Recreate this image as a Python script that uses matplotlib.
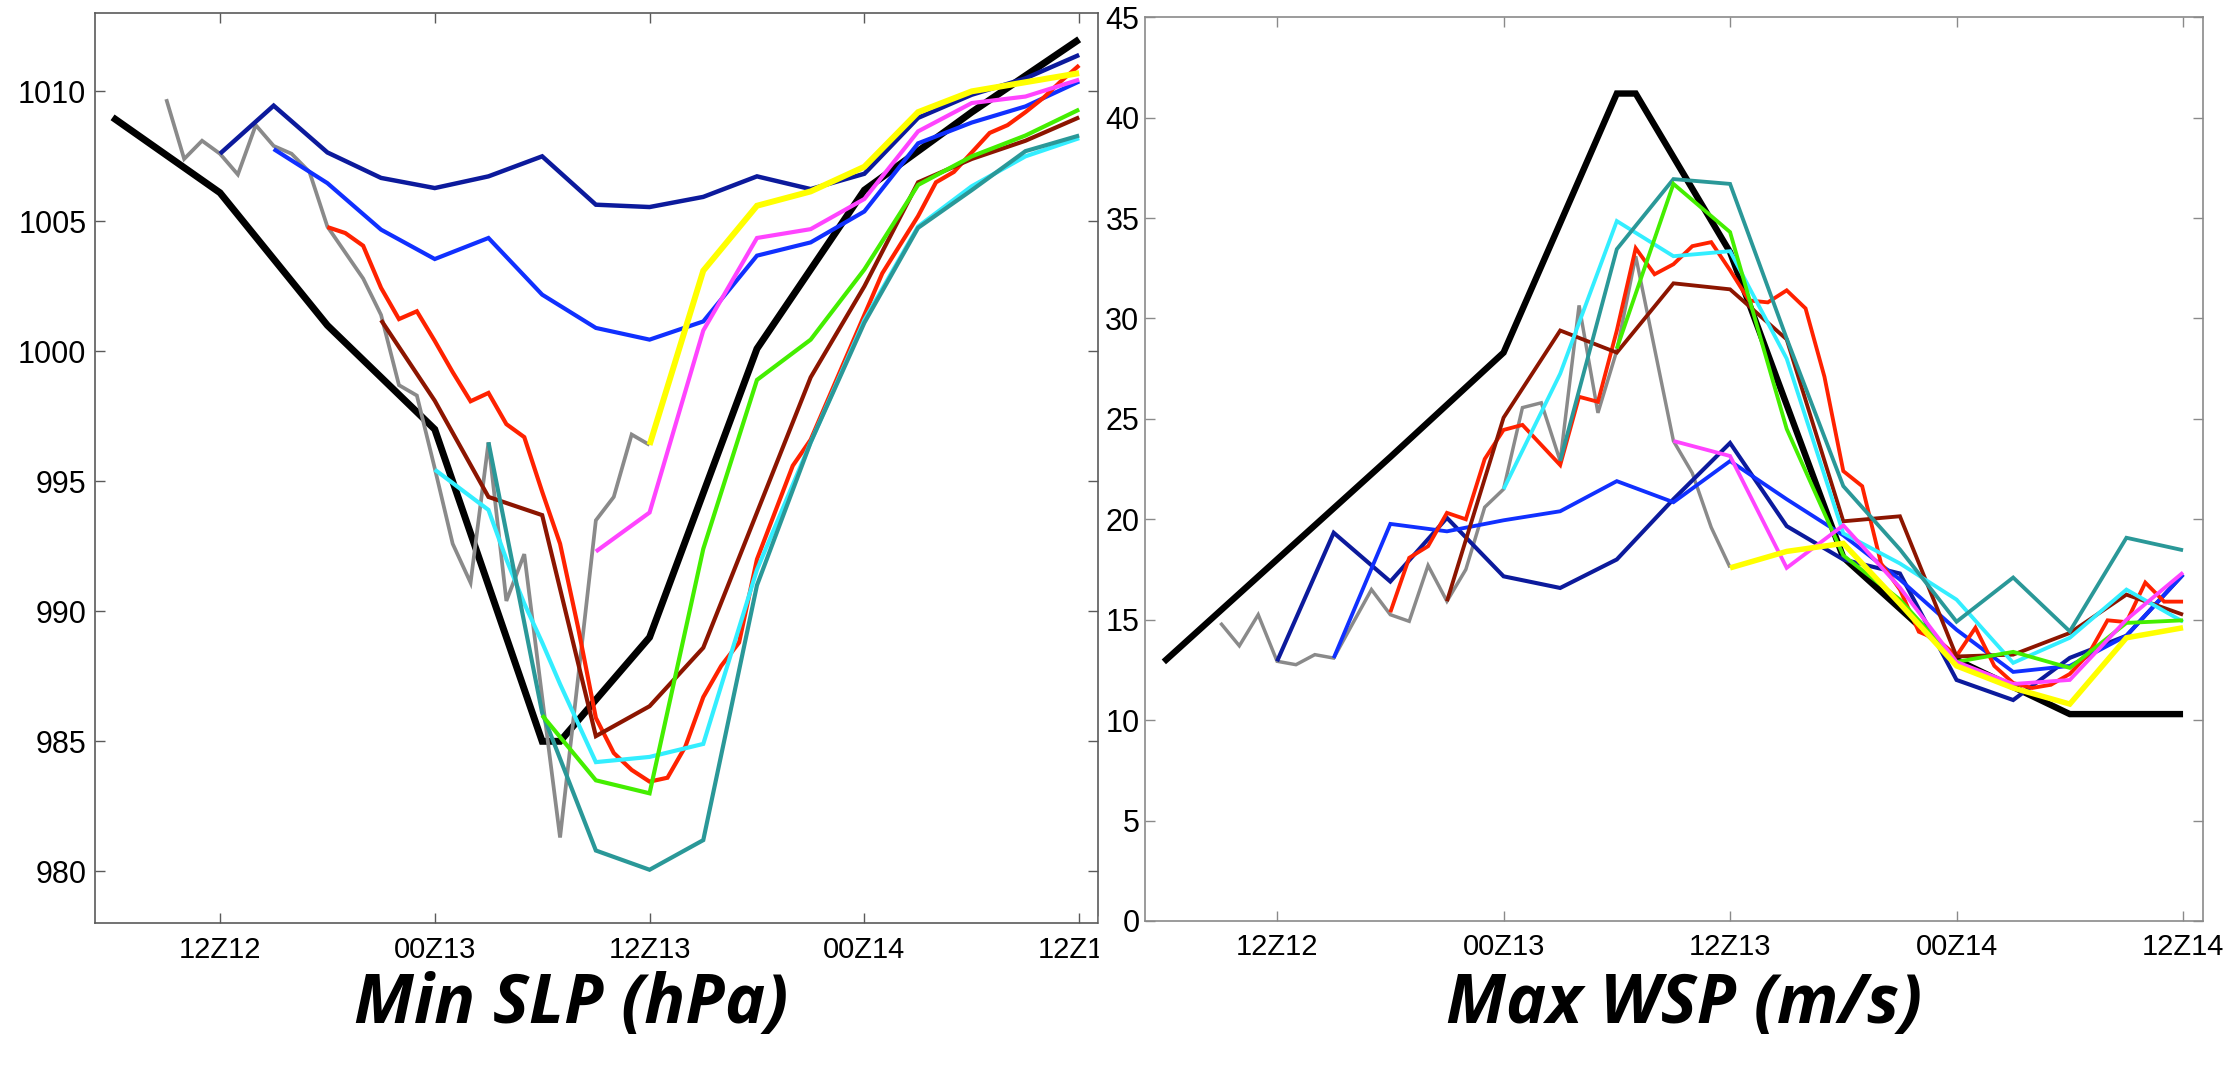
import numpy as np
import matplotlib.pyplot as plt
from matplotlib.patches import Rectangle

# hours after 12Z12
tick_hours = [0, 12, 24, 36, 48]
tick_labels = ['12Z12', '00Z13', '12Z13', '00Z14', '12Z14']

# observed (best track)
obs_h = [-6, 0, 6, 12, 18, 19, 24, 30, 36, 42, 48]
obs_slp = [1009.0, 1006.1, 1001.0, 997.0, 985.0, 985.0, 989.0, 1000.1, 1006.2, 1009.2, 1012.0]
obs_wsp = [12.9, 18.0, 23.1, 28.3, 41.2, 41.2, 33.3, 18.1, 13.0, 10.3, 10.3]

# hourly run starting 09Z12
gray_h = np.arange(-3, 25)
gray_slp = [1009.7, 1007.4, 1008.1, 1007.6, 1006.8, 1008.7, 1007.9, 1007.6, 1006.9, 1004.8,
            1003.8, 1002.8, 1001.4, 998.7, 998.3, 995.5, 992.6, 991.1, 996.5, 990.4,
            992.2, 986.7, 981.3, 987.4, 993.5, 994.4, 996.8, 996.4]
gray_wsp = [14.84, 13.7, 15.25, 12.93, 12.76, 13.26, 13.09, 14.8, 16.5, 15.25,
            14.92, 17.7, 15.92, 17.5, 20.6, 21.5, 25.56, 25.8, 22.9, 30.65,
            25.3, 28.4, 33.1, 28.5, 23.9, 22.3, 19.6, 17.6]

navy_h = np.arange(0, 49, 3)
navy_slp = [1007.6, 1009.45, 1007.65, 1006.67, 1006.28, 1006.73, 1007.5, 1005.64, 1005.55,
            1005.94, 1006.73, 1006.24, 1006.83, 1008.98, 1009.87, 1010.5, 1011.4]
navy_wsp = [12.93, 19.33, 16.9, 20.07, 17.16, 16.58, 18.0, 21.0, 23.8,
            19.66, 18.0, 17.3, 12.0, 11.0, 13.1, 14.2, 17.25]

blue_h = np.arange(3, 49, 3)
blue_slp = [1007.78, 1006.47, 1004.68, 1003.55, 1004.36, 1002.18, 1000.9, 1000.45,
            1001.15, 1003.68, 1004.19, 1005.38, 1008.0, 1008.8, 1009.42, 1010.38]
blue_wsp = [13.09, 19.77, 19.4, 19.95, 20.4, 21.9, 20.85, 22.9,
            21.0, 19.2, 17.0, 14.5, 12.4, 12.7, 14.2, 17.25]

red_h = np.arange(6, 49)
red_slp = [1004.78, 1004.55, 1004.06, 1002.44, 1001.24, 1001.54, 1000.4, 999.2, 998.08, 998.4,
           997.2, 996.7, 994.6, 992.6, 989.4, 985.9, 984.55, 983.9, 983.45, 983.6,
           984.8, 986.7, 987.9, 988.8, 992.0, 993.8, 995.6, 996.6, 998.2, 999.8,
           1001.4, 1003.0, 1004.1, 1005.2, 1006.5, 1006.9, 1007.65, 1008.4, 1008.7, 1009.2,
           1009.75, 1010.4, 1011.0]
red_wsp = [15.37, 18.08, 18.66, 20.32, 20.0, 23.0, 24.45, 24.7, 23.7, 22.7,
           26.1, 25.85, 29.4, 33.5, 32.2, 32.7, 33.6, 33.8, 32.4, 30.9,
           30.8, 31.4, 30.5, 27.1, 22.4, 21.65, 17.8, 16.5, 14.4, 14.0,
           13.2, 14.6, 12.7, 11.85, 11.6, 11.76, 12.3, 13.3, 14.97, 14.88,
           16.85, 15.9, 15.9]

dkred_h = np.arange(9, 49, 3)
dkred_slp = [1001.2, 998.1, 994.4, 993.7, 985.2, 986.35, 988.6, 993.8, 999.0, 1002.5,
             1006.5, 1007.4, 1008.1, 1009.0]
dkred_wsp = [15.92, 25.06, 29.4, 28.3, 31.75, 31.45, 28.96, 19.9, 20.15, 13.17,
             13.26, 14.34, 16.25, 15.25]

cyan_slp_h = [12, 15, 16, 17, 18, 19, 20, 21, 24, 27, 30, 33, 36, 39, 42, 45, 48]
cyan_slp = [995.45, 993.9, 992.0, 990.3, 988.8, 987.2, 985.7, 984.2, 984.4, 984.9,
            991.6, 996.5, 1001.2, 1004.8, 1006.35, 1007.5, 1008.2]
cyan_wsp_h = np.arange(12, 49, 3)
cyan_wsp = [21.5, 27.25, 34.85, 33.1, 33.35, 28.0, 19.3, 17.8, 16.0, 12.85, 14.1, 16.5, 14.9]

teal_h = np.arange(15, 49, 3)
teal_slp = [996.5, 986.1, 980.8, 980.06, 981.2, 991.0, 996.5, 1001.1, 1004.75, 1006.2,
            1007.7, 1008.3]
teal_wsp = [22.9, 33.45, 36.94, 36.7, 29.0, 21.65, 18.5, 14.9, 17.1, 14.42, 19.08, 18.46]

green_h = np.arange(18, 49, 3)
green_slp = [986.0, 983.5, 983.0, 992.4, 998.9, 1000.45, 1003.15, 1006.4, 1007.5, 1008.3, 1009.3]
green_wsp = [28.5, 36.7, 34.3, 24.5, 18.2, 16.0, 12.9, 13.4, 12.6, 14.84, 14.97]

magenta_h = np.arange(21, 49, 3)
magenta_slp = [992.3, 993.8, 1000.8, 1004.36, 1004.7, 1005.86, 1008.46, 1009.55, 1009.8, 1010.45]
magenta_wsp = [23.9, 23.15, 17.58, 19.7, 16.6, 12.9, 11.8, 12.0, 15.0, 17.35]

yellow_h = np.arange(24, 49, 3)
yellow_slp = [996.4, 1003.1, 1005.6, 1006.15, 1007.1, 1009.2, 1010.0, 1010.35, 1010.7]
yellow_wsp = [17.58, 18.4, 18.8, 15.8, 12.7, 11.6, 10.8, 14.1, 14.6]


def _plot_runs(ax, runs, lw_scale):
    for hours, values, colour, lw in runs:
        ax.plot(hours, values, color=colour, lw=lw * lw_scale,
                solid_joinstyle='miter', solid_capstyle='butt')


def _style_axes(ax, ylim, yticks, spine_colour, ypad):
    ax.set_xlim(-7, 49.05)
    ax.set_ylim(ylim)
    ax.set_xticks(tick_hours)
    ax.set_xticklabels(tick_labels)
    ax.set_yticks(yticks)
    ax.tick_params(direction='in', top=True, right=True, length=7.5, width=1.0,
                   color=spine_colour)
    ax.tick_params(axis='x', labelsize=21, pad=9)
    ax.tick_params(axis='y', labelsize=22, pad=ypad)
    for spine in ax.spines.values():
        spine.set_color(spine_colour)
        spine.set_linewidth(1.2)
    for lab in ax.get_xticklabels() + ax.get_yticklabels():
        lab.set_family('Liberation Sans')


slp_runs = [
    (obs_h, obs_slp, 'black', 5.0),
    (gray_h, gray_slp, '#8a8a8a', 2.7),
    (navy_h, navy_slp, '#0c1a9c', 3.2),
    (blue_h, blue_slp, '#1030ff', 3.0),
    (red_h, red_slp, '#ff2200', 3.0),
    (dkred_h, dkred_slp, '#8c1500', 3.0),
    (cyan_slp_h, cyan_slp, '#33eeff', 3.0),
    (teal_h, teal_slp, '#2a9898', 3.0),
    (green_h, green_slp, '#44ee00', 3.0),
    (magenta_h, magenta_slp, '#ff44ff', 3.0),
    (yellow_h, yellow_slp, '#ffff00', 4.3),
]

wsp_runs = [
    (obs_h, obs_wsp, 'black', 5.0),
    (gray_h, gray_wsp, '#8a8a8a', 2.7),
    (navy_h, navy_wsp, '#0c1a9c', 3.2),
    (blue_h, blue_wsp, '#1030ff', 3.0),
    (red_h, red_wsp, '#ff2200', 3.0),
    (dkred_h, dkred_wsp, '#8c1500', 3.0),
    (cyan_wsp_h, cyan_wsp, '#33eeff', 3.0),
    (teal_h, teal_wsp, '#2a9898', 3.0),
    (green_h, green_wsp, '#44ee00', 3.0),
    (magenta_h, magenta_wsp, '#ff44ff', 3.0),
    (yellow_h, yellow_wsp, '#ffff00', 4.3),
]

fig = plt.figure(figsize=(22.38, 10.76), dpi=100)

ax1 = fig.add_axes([0.0423, 0.1419, 0.4483, 0.8457])
_plot_runs(ax1, slp_runs, 1.0)
_style_axes(ax1, (978, 1013), np.arange(980, 1011, 5), '#5a5a5a', 6)

ax2 = fig.add_axes([0.5116, 0.1441, 0.4727, 0.8399])
ax2.set_zorder(1)
_plot_runs(ax2, wsp_runs, 0.92)
_style_axes(ax2, (0, 45), np.arange(0, 46, 5), '#8a8a8a', 4)

# the right panel was pasted over the end of the left one
fig.add_artist(Rectangle((1099 / 2238, 0), 46 / 2238, 160 / 1076,
                         transform=fig.transFigure, color='white', zorder=0.5))

fig.text(0.255, 0.066, 'Min SLP (hPa)', ha='center', va='center', fontsize=49,
         fontweight='bold', style='italic', family='Open Sans')
fig.text(0.7525, 0.066, 'Max WSP (m/s)', ha='center', va='center', fontsize=49,
         fontweight='bold', style='italic', family='Open Sans')

plt.savefig('out.png', dpi=100)
